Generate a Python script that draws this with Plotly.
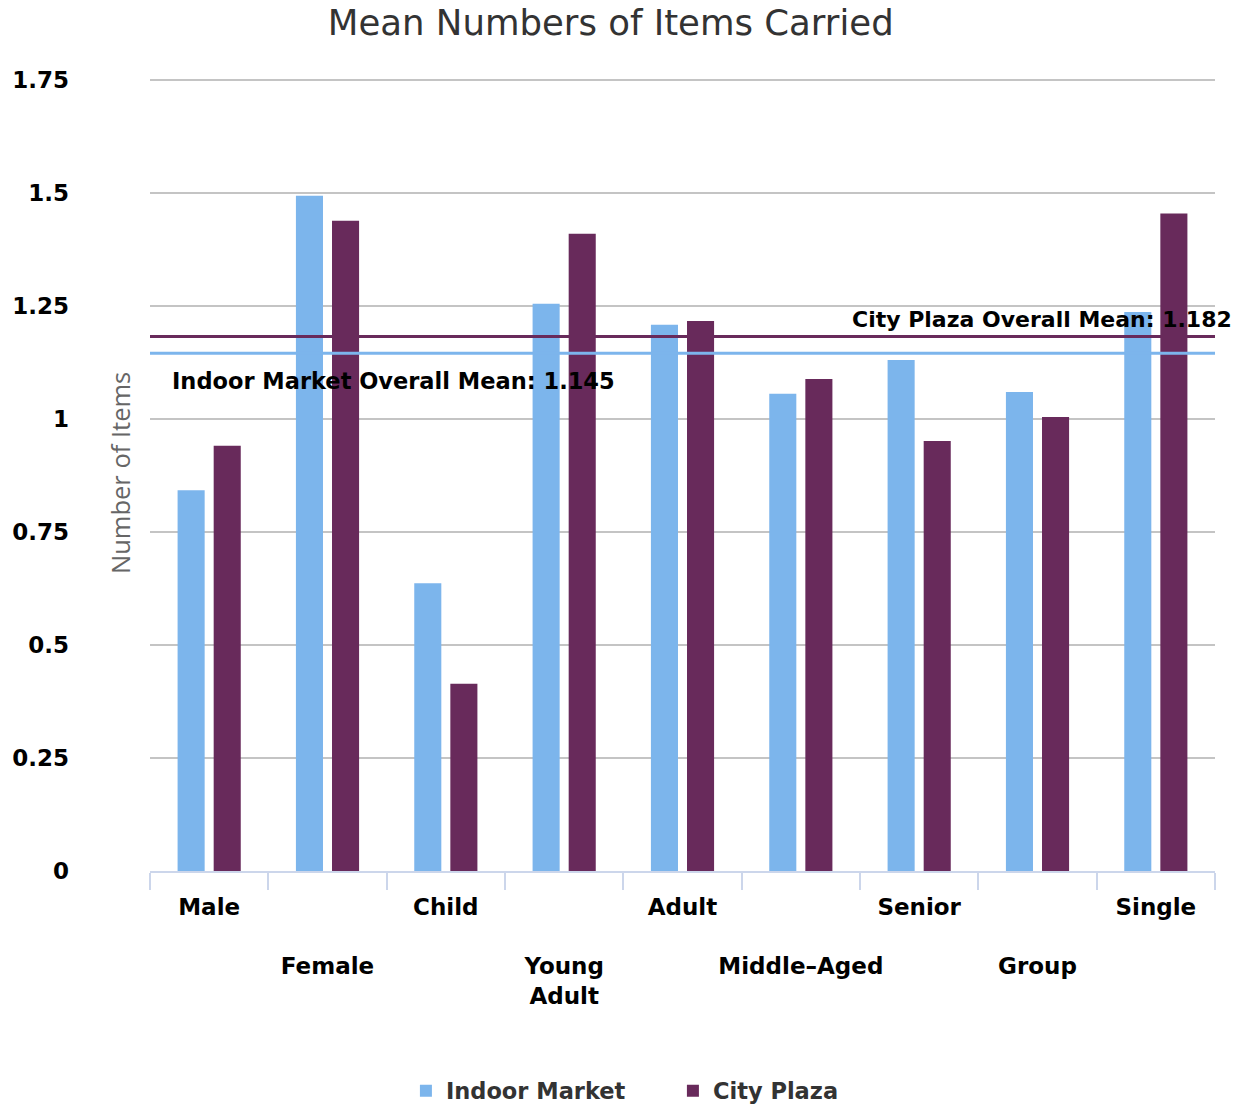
import plotly.graph_objects as go

categories = ["Male", "Female", "Child", "Young Adult", "Adult", "Middle-Aged", "Senior", "Group", "Single"]
tick_labels = ["Male", "<br><br>Female", "Child", "<br><br>Young<br>Adult", "Adult",
               "<br><br>Middle\u2013Aged", "Senior", "<br><br>Group", "Single"]
indoor_market = [0.842, 1.493, 0.636, 1.254, 1.208, 1.055, 1.130, 1.059, 1.236]
city_plaza = [0.940, 1.438, 0.414, 1.409, 1.216, 1.088, 0.951, 1.004, 1.454]
indoor_mean = 1.145
city_mean = 1.182
y_ticks = [0, 0.25, 0.5, 0.75, 1, 1.25, 1.5, 1.75]

BLUE = "#7cb5ec"
PURPLE = "#682a5b"
FONT = "DejaVu Sans"

fig = go.Figure()
fig.add_trace(go.Bar(name="Indoor Market", x=categories, y=indoor_market,
                     marker=dict(color=BLUE, line=dict(width=0))))
fig.add_trace(go.Bar(name="City Plaza", x=categories, y=city_plaza,
                     marker=dict(color=PURPLE, line=dict(width=0))))

fig.add_shape(type="line", xref="paper", x0=0, x1=1, yref="y", y0=city_mean, y1=city_mean,
              line=dict(color=PURPLE, width=3), layer="above")
fig.add_shape(type="line", xref="paper", x0=0, x1=1, yref="y", y0=indoor_mean, y1=indoor_mean,
              line=dict(color=BLUE, width=3), layer="above")

fig.add_annotation(text=f"City Plaza Overall Mean: {city_mean}", xref="paper", x=1, xshift=19,
                   xanchor="right", yref="y", y=city_mean, yanchor="bottom", yshift=2,
                   showarrow=False, font=dict(family=FONT, size=22, color="#000000", weight="bold"))
fig.add_annotation(text=f"Indoor Market Overall Mean: {indoor_mean}", xref="paper", x=0, xshift=20,
                   xanchor="left", yref="y", y=indoor_mean, yanchor="top", yshift=-13,
                   showarrow=False, font=dict(family=FONT, size=22.5, color="#000000", weight="bold"))
fig.add_annotation(text="Number of Items", xref="paper", x=0, xshift=-30, xanchor="center",
                   yref="paper", y=0.5, yanchor="middle", textangle=-90, showarrow=False,
                   font=dict(family="Open Sans", size=25.5, color="#666666"))

fig.update_layout(
    width=1249, height=1109,
    margin=dict(l=150, r=34, t=75, b=238),
    paper_bgcolor="white", plot_bgcolor="white",
    title=dict(text="Mean Numbers of Items Carried", x=0.489, xanchor="center",
               y=1 - 23 / 1109, yanchor="middle", yref="container",
               font=dict(family=FONT, size=35.5, color="#333333")),
    barmode="group", bargap=0.39, bargroupgap=0.25,
    showlegend=True,
    legend=dict(orientation="h", x=0.491, xanchor="center",
                yref="container", y=(1109 - 1091) / 1109, yanchor="middle",
                font=dict(family=FONT, size=22.5, color="#333333", weight="bold"),
                entrywidth=222),
    xaxis=dict(type="category", tickmode="array", tickvals=categories, ticktext=tick_labels,
               tickangle=0, automargin=False, ticklabelstandoff=14,
               tickson="boundaries", ticks="outside", ticklen=17, tickwidth=2, tickcolor="#ccd6eb",
               showline=True, linecolor="#ccd6eb", linewidth=2, showgrid=False,
               tickfont=dict(family=FONT, size=23, color="#000000", weight="bold")),
    yaxis=dict(range=[0, 1.76], tickmode="array", tickvals=y_ticks, automargin=False,
               ticktext=[f"{v:g}" for v in y_ticks],
               showgrid=True, gridcolor="#c4c4c4", gridwidth=2, zeroline=False, showline=False,
               ticklabelstandoff=80,
               tickfont=dict(family=FONT, size=23, color="#000000", weight="bold")),
)

fig.write_html("out.html")
